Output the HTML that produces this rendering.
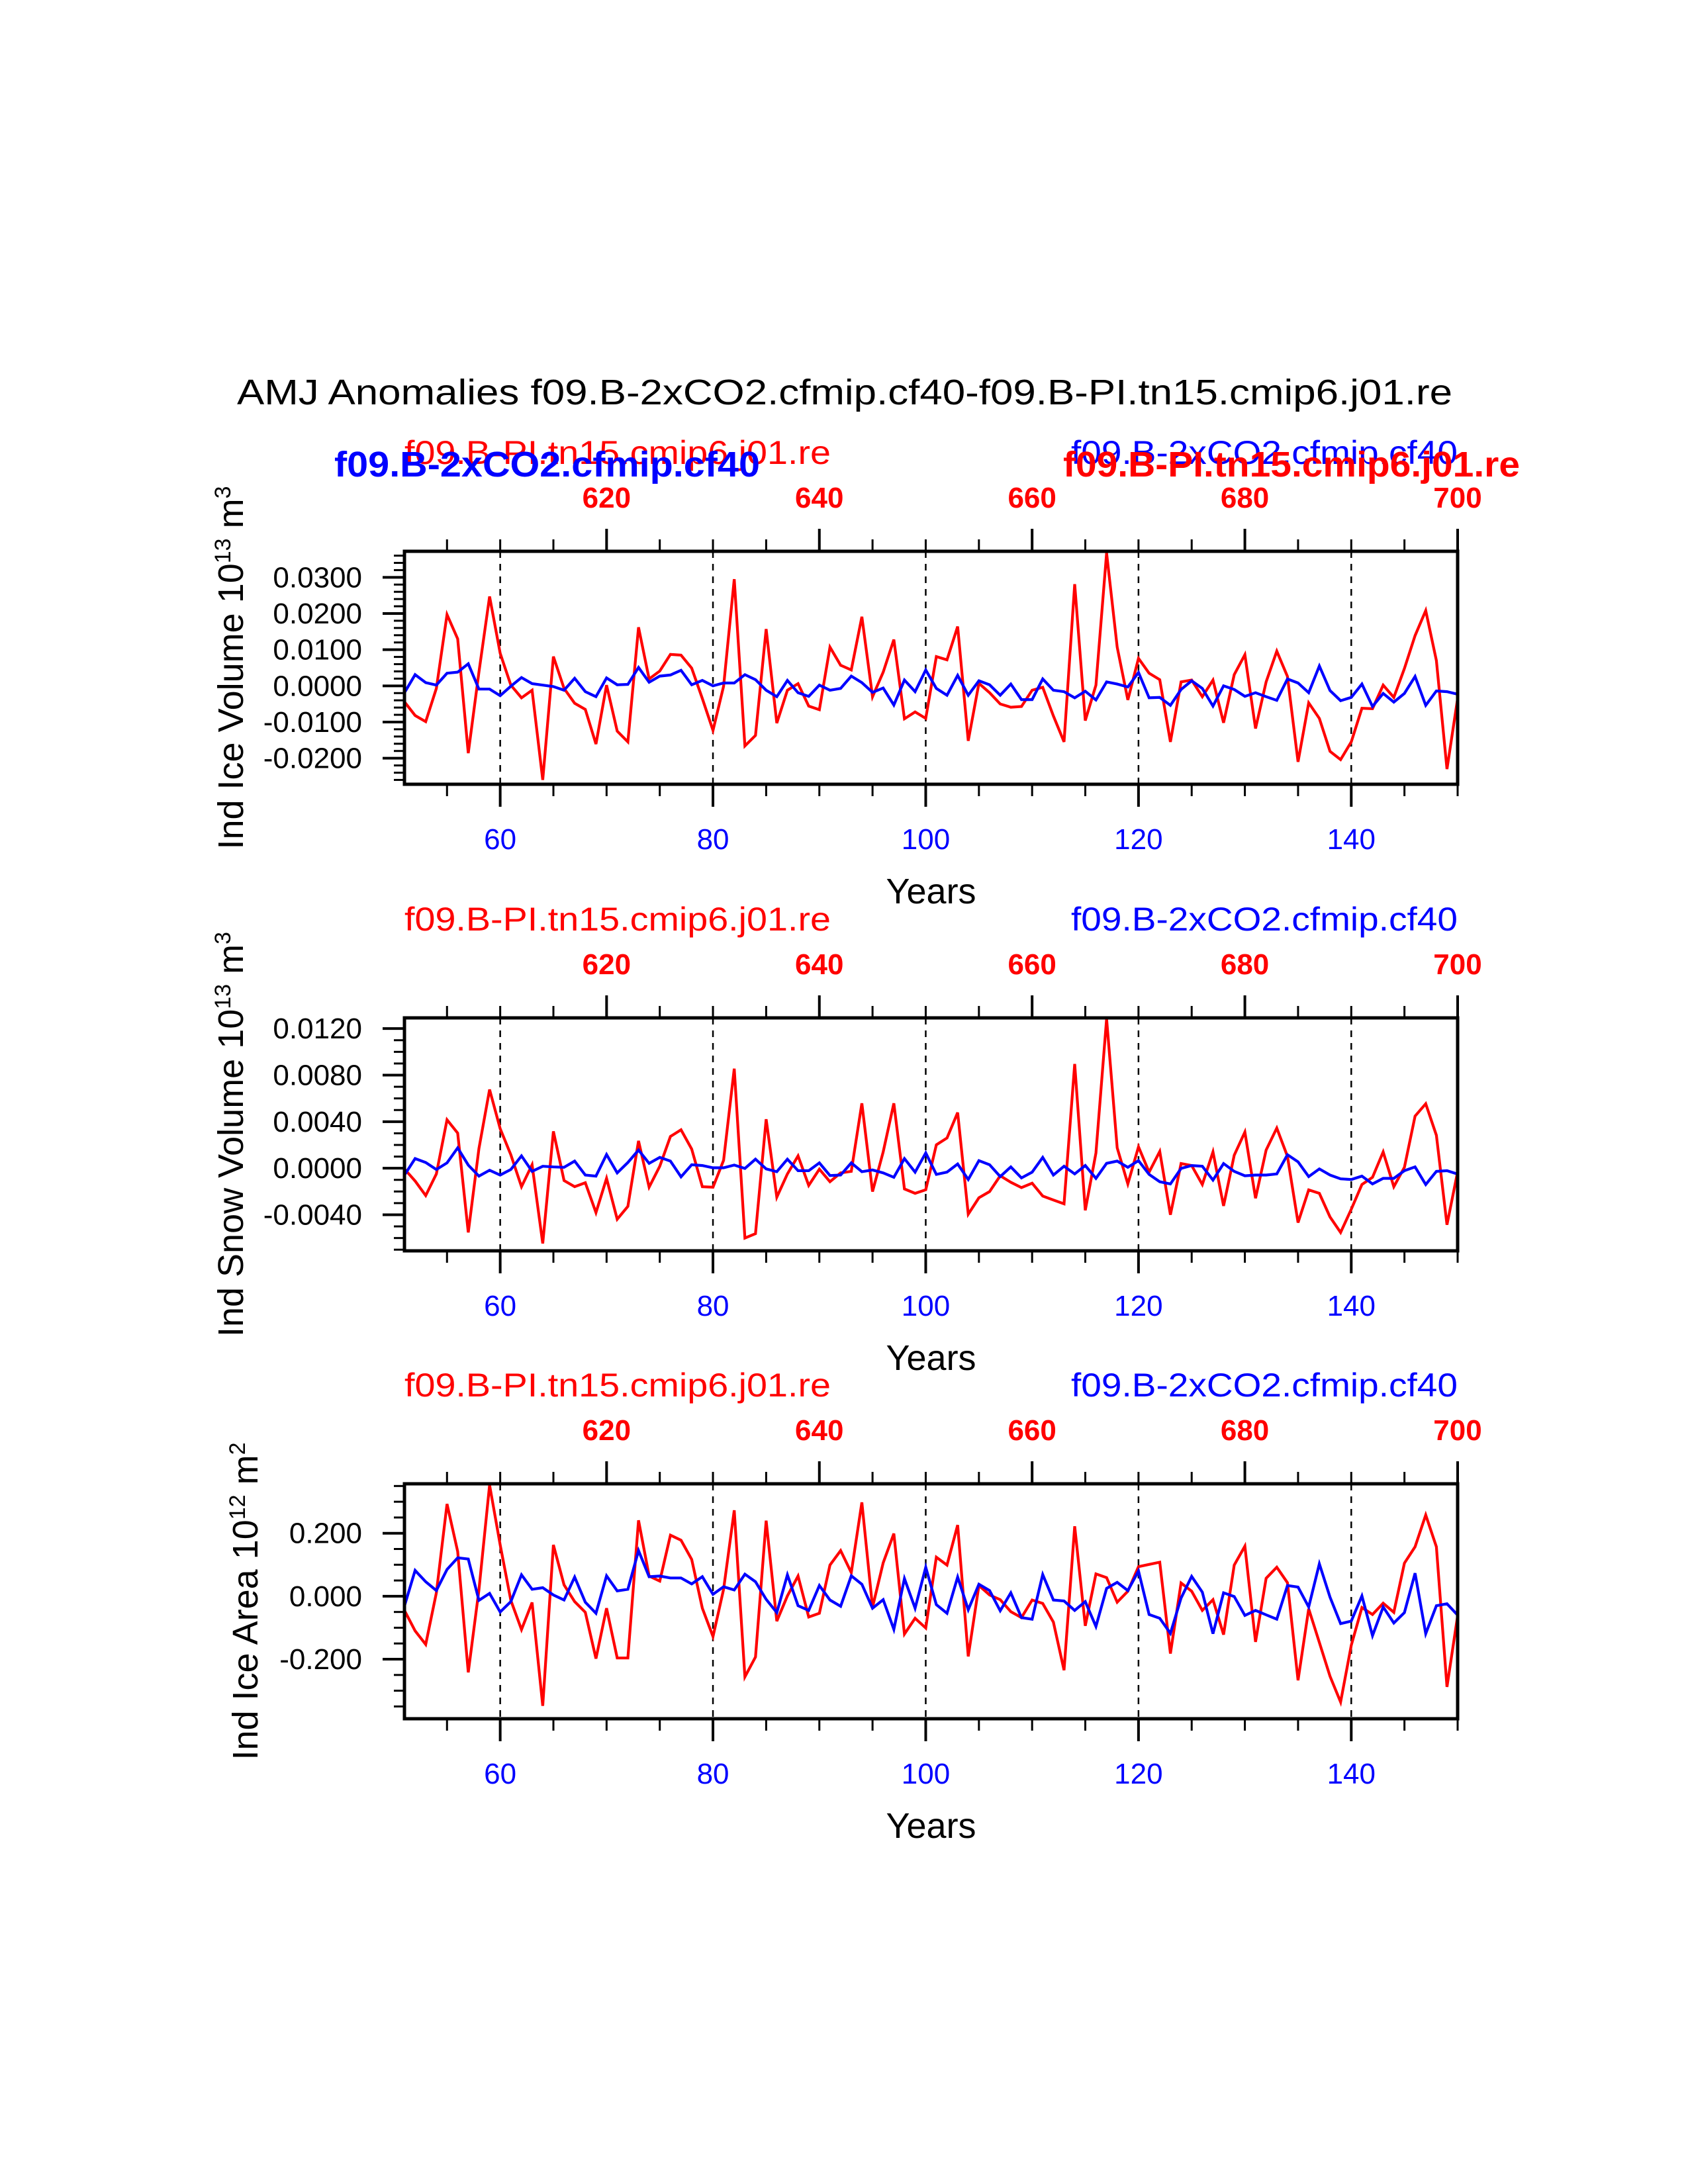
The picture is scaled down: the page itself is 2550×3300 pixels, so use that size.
<!DOCTYPE html>
<html><head><meta charset="utf-8">
<style>
html,body{margin:0;padding:0;background:#fff;}
svg{display:block;font-family:"Liberation Sans",Arial,sans-serif;}
</style></head>
<body>
<svg id="chart" xmlns="http://www.w3.org/2000/svg" width="2550" height="3300" viewBox="0 0 2550 3300">
<rect x="0" y="0" width="2550" height="3300" fill="#fff"/>
<text x="1276" y="611" font-size="54" text-anchor="middle" textLength="1836" lengthAdjust="spacingAndGlyphs">AMJ Anomalies f09.B-2xCO2.cfmip.cf40-f09.B-PI.tn15.cmip6.j01.re</text>
</svg>
<script>
// years (x categories) for bottom axis
const years = Array.from({length:100},(_,i)=>51+i);
const bottomTicks = [60,80,100,120,140];
const topTickLabels = ["620","640","660","680","700"];
const topTickYears = [70,90,110,130,150];

// Panel 1: Ind Ice Volume (units of 1e-3 * 10^13 m^3)
const iceVolRed = [-4.4,-8.2,-9.9,-0.7,19.7,13.0,-18.6,3.8,24.7,9.0,
0.2,-3.3,-1.2,-26.0,8.1,-0.7,-4.8,-6.5,-16.1,0.2,
-12.5,-15.5,16.2,1.9,4.1,8.7,8.5,4.9,-3.5,-12.3,
-0.1,29.5,-16.6,-13.7,15.7,-10.3,-1.2,0.6,-5.6,-6.6,
10.7,5.7,4.4,19.1,-3.0,3.8,12.8,-9.1,-7.2,-9.0,
8.1,7.2,16.4,-15.2,0.7,-1.9,-5.0,-5.9,-5.7,-1.2,
-0.4,-8.3,-15.5,28.1,-9.6,0.2,36.7,10.7,-3.9,7.6,
3.5,1.7,-15.5,1.1,1.6,-3.0,1.6,-10.2,3.1,8.6,
-11.8,1.1,9.6,2.6,-21.0,-4.7,-9.0,-18.1,-20.4,-15.5,
-6.2,-6.3,0.2,-3.2,4.8,13.9,20.8,7.0,-23.0,-3.5];
const iceVolBlue = [-1.9,3.1,0.9,0.2,3.5,3.8,6.1,-0.9,-0.9,-2.7,
-0.1,2.3,0.6,0.2,-0.2,-1.2,2.1,-1.6,-3.0,2.2,
0.3,0.4,5.1,1.0,2.7,3.0,4.3,0.3,1.5,0,
0.8,0.8,3.1,1.7,-1.2,-3.0,1.5,-1.9,-2.9,0.2,
-1.2,-0.7,2.7,0.9,-1.8,-0.6,-5.3,1.6,-1.6,4.4,
-0.7,-2.6,2.9,-2.6,1.4,0.3,-2.6,0.5,-3.8,-3.8,
1.9,-1.2,-1.6,-3.3,-1.5,-3.9,1.1,0.5,-0.3,3.7,
-3.3,-3.2,-5.4,-1.0,1.4,-0.7,-5.6,0,-1.0,-2.9,
-1.9,-3.0,-4.0,1.9,0.8,-1.9,5.5,-1.3,-4.1,-3.2,
0.5,-5.7,-2.1,-4.5,-2.1,2.6,-5.4,-1.4,-1.6,-2.3];
const iceVolTicks = [30,20,10,0,-10,-20];
const iceVolTickLabels = ["0.0300","0.0200","0.0100","0.0000","-0.0100","-0.0200"];

// Panel 2: Ind Snow Volume (units of 1e-3 * 10^13 m^3)
const snowRed = [-0.06,-1.10,-2.35,-0.49,4.16,3.02,-5.52,1.69,6.76,3.40,
1.16,-1.59,0.30,-6.47,3.17,-1.06,-1.59,-1.25,-3.81,-0.87,
-4.38,-3.28,2.35,-1.63,0.17,2.73,3.30,1.65,-1.59,-1.63,
0.68,8.56,-6.0,-5.62,4.21,-2.49,-0.49,1.06,-1.48,-0.08,
-1.16,-0.40,-0.27,5.58,-2.01,1.40,5.58,-1.78,-2.16,-1.85,
2.01,2.60,4.78,-3.95,-2.54,-2.01,-0.65,-1.21,-1.67,-1.29,
-2.39,-2.73,-3.06,8.96,-3.62,1.31,12.83,1.75,-1.35,1.84,
-0.34,1.44,-4.00,0.40,0.23,-1.40,1.40,-3.24,1.12,3.11,
-2.58,1.56,3.45,1.02,-4.67,-1.86,-2.16,-4.19,-5.52,-3.53,
-1.40,-0.78,1.40,-1.59,0.08,4.48,5.54,2.83,-4.86,-0.3];
const snowBlue = [-0.59,0.83,0.49,-0.11,0.46,1.75,0.27,-0.68,-0.17,-0.59,
-0.11,1.06,-0.27,0.17,0.11,0.08,0.61,-0.59,-0.68,1.18,
-0.40,0.49,1.56,0.42,0.93,0.61,-0.74,0.30,0.23,0.04,
0.04,0.27,-0.02,0.78,-0.06,-0.30,0.78,-0.21,-0.21,0.46,
-0.63,-0.59,0.46,-0.30,-0.15,-0.40,-0.78,0.83,-0.34,1.32,
-0.53,-0.34,0.36,-0.97,0.65,0.30,-0.72,0.11,-0.83,-0.34,
0.93,-0.59,0.17,-0.49,0.23,-0.87,0.42,0.61,0.08,0.65,
-0.53,-1.16,-1.35,-0.02,0.23,0.17,-1.02,0.40,-0.27,-0.65,
-0.59,-0.59,-0.49,1.16,0.55,-0.72,-0.06,-0.59,-0.91,-0.97,
-0.68,-1.35,-0.87,-0.87,-0.21,0.11,-1.40,-0.27,-0.21,-0.5];
const snowTicks = [12,8,4,0,-4];
const snowTickLabels = ["0.0120","0.0080","0.0040","0.0000","-0.0040"];

// Panel 3: Ind Ice Area (units of 1e-3 * 10^12 m^2)
const areaRed = [-45,-110,-153,11,293,142,-242,20,353,163,
-13,-106,-20,-348,163,36,-17,-51,-198,-38,
-196,-196,241,64,48,194,178,117,-38,-128,
22,273,-256,-193,240,-79,1,64,-66,-54,
99,145,75,298,-35,106,199,-120,-70,-101,
124,99,226,-191,34,4,-11,-49,-68,-12,
-23,-82,-235,222,-94,71,59,-19,16,94,
101,108,-182,42,16,-45,-11,-122,99,159,
-145,57,92,43,-267,-40,-147,-254,-336,-156,
-36,-58,-22,-51,105,157,258,157,-288,-62];
const areaBlue = [-31,82,46,18,85,122,118,-13,9,-50,
-17,68,22,27,4,-12,61,-19,-54,65,
17,22,145,62,64,58,58,39,62,6,
30,20,70,46,-10,-52,68,-30,-45,34,
-12,-32,65,38,-38,-11,-105,56,-38,92,
-27,-54,61,-43,38,18,-46,11,-68,-73,
69,-12,-15,-45,-17,-96,25,44,18,80,
-58,-70,-118,-6,63,13,-119,11,-1,-61,
-45,-59,-73,34,29,-34,103,-3,-87,-79,
1,-125,-34,-85,-52,73,-119,-30,-24,-60];
const areaTicks = [200,0,-200];
const areaTickLabels = ["0.200","0.000","-0.200"];

const NS = "http://www.w3.org/2000/svg";
const svg = document.getElementById("chart");
const X0 = 611, X1 = 2202, YR0 = 51, YR1 = 150;
function xScale(yr){ return X0 + (yr-YR0)*(X1-X0)/(YR1-YR0); }
function mk(tag, attrs, parent){
  const e = document.createElementNS(NS, tag);
  for (const k in attrs) e.setAttribute(k, attrs[k]);
  (parent||svg).appendChild(e);
  return e;
}

const panels = [
 {key:"ice-volume", top:833, bot:1185, ymax:37.2, ymin:-27.2, minor:2, red:iceVolRed, blue:iceVolBlue, ticks:iceVolTicks, labels:iceVolTickLabels, title:["Ind Ice Volume 10","13"," m","3"], titleX:367, bold:true},
 {key:"snow-volume", top:1538, bot:1890, ymax:12.92, ymin:-7.1, minor:1, red:snowRed, blue:snowBlue, ticks:snowTicks, labels:snowTickLabels, title:["Ind Snow Volume 10","13"," m","3"], titleX:367, bold:false},
 {key:"ice-area", top:2242, bot:2597, ymax:357, ymin:-389, minor:50, red:areaRed, blue:areaBlue, ticks:areaTicks, labels:areaTickLabels, title:["Ind Ice Area 10","12"," m","2"], titleX:389, bold:false}
];

panels.forEach(p=>{
  const g = mk("g",{});
  
  
  const yScale = v => p.top + (p.ymax - v)*(p.bot-p.top)/(p.ymax-p.ymin);

  // dashed reference lines
  bottomTicks.forEach(t=>{
    const l = mk("line",{x1:xScale(t),x2:xScale(t),y1:p.top,y2:p.bot,stroke:"#000","stroke-width":2.5,"stroke-dasharray":"10,9"},g);
    
    
  });

  // series
  [["red","#ff0000",p.red],["blue","#0000ff",p.blue]].forEach(([nm,col,arr])=>{
    const pts = arr.map((v,i)=>xScale(years[i]).toFixed(1)+","+yScale(v).toFixed(1)).join(" ");
    const pl = mk("polyline",{points:pts,fill:"none",stroke:col,"stroke-width":4.2,"stroke-linejoin":"miter"},g);
    
    
  });

  // clip overflow: white masks outside box
  // frame
  const fr = mk("rect",{x:X0,y:p.top,width:X1-X0,height:p.bot-p.top,fill:"none",stroke:"#000","stroke-width":5},g);
  
  

  // y ticks (outward, left)
  for (let v = Math.ceil(p.ymin/p.minor)*p.minor; v <= p.ymax; v += p.minor){
    const isMajor = p.ticks.some(t=>Math.abs(t-v)<1e-6);
    const yy = yScale(v);
    const t = mk("line",{x1:X0-(isMajor?33:16),x2:X0,y1:yy,y2:yy,stroke:"#000","stroke-width":isMajor?4:3},g);
    
    
  }
  p.ticks.forEach((v,i)=>{
    const tx = mk("text",{x:547,y:yScale(v)+15,"font-size":44,"text-anchor":"end"},g);
    tx.textContent = p.labels[i];
    
    
  });

  // bottom ticks
  for (let yr=55; yr<=150; yr+=5){
    const isMajor = bottomTicks.includes(yr);
    const xx = xScale(yr);
    const t = mk("line",{x1:xx,x2:xx,y1:p.bot,y2:p.bot+(isMajor?34:18),stroke:"#000","stroke-width":isMajor?4:3},g);
    
    
    const t2 = mk("line",{x1:xx,x2:xx,y1:p.top,y2:p.top-(((yr-70)%20===0)?34:18),stroke:"#000","stroke-width":((yr-70)%20===0)?4:3},g);
    
    
  }
  bottomTicks.forEach(t=>{
    const tx = mk("text",{x:xScale(t),y:p.bot+98,"font-size":44,"text-anchor":"middle",fill:"#0000ff"},g);
    tx.textContent = String(t);
    
    
  });
  topTickYears.forEach((t,i)=>{
    const tx = mk("text",{x:xScale(t),y:p.top-66,"font-size":44,"font-weight":"bold","text-anchor":"middle",fill:"#ff0000"},g);
    tx.textContent = topTickLabels[i];
    
    
  });

  // x title
  const xt = mk("text",{x:(X0+X1)/2,y:p.bot+180,"font-size":54,"text-anchor":"middle"},g);
  xt.textContent = "Years";
  
  

  // y title
  const cy = (p.top+p.bot)/2;
  const yt = mk("text",{x:p.titleX,y:cy,"font-size":54,"text-anchor":"middle",transform:"rotate(-90 "+p.titleX+" "+cy+")"},g);
  
  
  const s1 = mk("tspan",{},yt); s1.textContent = p.title[0];
  const s2 = mk("tspan",{"baseline-shift":"super","font-size":34},yt); s2.textContent = p.title[1];
  const s3 = mk("tspan",{},yt); s3.textContent = p.title[2];
  const s4 = mk("tspan",{"baseline-shift":"super","font-size":34},yt); s4.textContent = p.title[3];

  // headers
  const hy = p.top - 132;
  const hr = mk("text",{x:X0,y:hy,"font-size":50,fill:"#ff0000",textLength:644,lengthAdjust:"spacingAndGlyphs"},g);
  hr.textContent = "f09.B-PI.tn15.cmip6.j01.re";
  
  
  const hb = mk("text",{x:1618,y:hy,"font-size":50,fill:"#0000ff",textLength:584,lengthAdjust:"spacingAndGlyphs"},g);
  hb.textContent = "f09.B-2xCO2.cfmip.cf40";
  
  
  if (p.bold){
    const bb = mk("text",{x:505,y:hy+19,"font-size":54,"font-weight":"bold",fill:"#0000ff",textLength:643,lengthAdjust:"spacingAndGlyphs"},g);
    bb.textContent = "f09.B-2xCO2.cfmip.cf40";
    
    
    const rb = mk("text",{x:1606,y:hy+19,"font-size":54,"font-weight":"bold",fill:"#ff0000",textLength:690,lengthAdjust:"spacingAndGlyphs"},g);
    rb.textContent = "f09.B-PI.tn15.cmip6.j01.re";
    
    
  }
});
</script>
</body></html>
